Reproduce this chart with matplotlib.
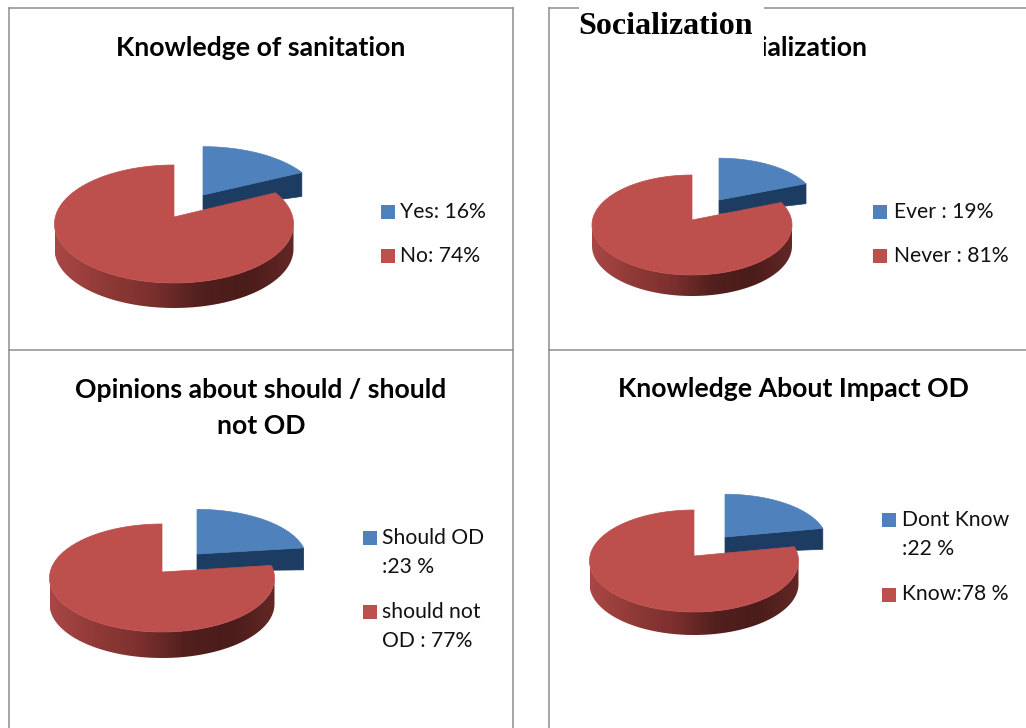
import numpy as np
import matplotlib
matplotlib.use("Agg")
import matplotlib.pyplot as plt
from matplotlib.colors import LinearSegmentedColormap
from matplotlib.patches import Polygon, Rectangle

# Datos
titulos = ["Knowledge of sanitation", "Socialization",
           "Opinions about should / should\nnot OD", "Knowledge About Impact OD"]
valores_azul = [16, 19, 23, 22]
valores_rojo = [74, 81, 77, 78]
etiquetas_azul = ["Yes: 16%", "Ever : 19%", "Should OD\n:23 %", "Dont Know\n:22 %"]
etiquetas_rojo = ["No: 74%", "Never : 81%", "should not\nOD : 77%", "Know:78 %"]

# Geometria en pixeles: vertice rojo, radios y grosor
vertice_rojo = [(174, 217), (692, 220), (162, 572), (694, 556)]
radio_x = [119.5, 100, 112.5, 104.5]
radio_arriba = [52, 45, 48, 46]
radio_abajo = [66, 55, 60, 56]
grosor = [25, 21, 26, 23]
vertice_azul = [(203, 195), (719, 200), (197, 554), (725, 537)]
grosor_azul = [(15, 24), (14, 20), (17, 22), (16, 21)]
titulo_pos = [(261, 48), (793, 48), (261, 408), (793, 389)]

ley_x = [(381, 400), (873, 894), (363, 382), (882, 902)]
ley_azul_y = [211.5, 211.5, 552.5, 534.5]
ley_rojo_y = [256, 256, 626.5, 594.5]

AZUL = "#4f81bd"
AZUL_OSC = "#1d3c62"
ROJO = "#bd4f4c"
GRIS = "#8e8e8e"
cmap_lado = LinearSegmentedColormap.from_list(
    "lado", ["#a94745", "#903a37", "#7c302e", "#52201e", "#4a1c1a", "#632725"])

plt.rcParams["font.family"] = ["Lato", "DejaVu Sans"]
fig = plt.figure(figsize=(10.26, 7.28), dpi=100)
ax = fig.add_axes([0, 0, 1, 1])
ax.axis("off")

# Bordes de la tabla
for xs, ys in [((9, 9), (8, 728)), ((513, 513), (8, 728)), ((549, 549), (8, 728)),
               ((9, 513), (8, 8)), ((549, 1026), (8, 8)),
               ((9, 513), (350, 350)), ((549, 1026), (350, 350))]:
    ax.plot(xs, ys, color=GRIS, lw=1.1, zorder=1)


def borde(theta, vx, vy, rx, ra, rb, esc_x=1.0, esc_y=1.0):
    # circulo unidad proyectado con perspectiva: atras chico, adelante grande
    k = (rb - ra) / (rb + ra)
    b = ra * (1 + k)
    a = rx * np.sqrt(1 - k ** 2)
    d = 1 + k * np.cos(theta)
    return (vx + esc_x * a * np.sin(theta) / d,
            vy - esc_y * b * np.cos(theta) / d)


for i in range(4):
    vx, vy = vertice_rojo[i]
    rx, ra, rb, h = radio_x[i], radio_arriba[i], radio_abajo[i], grosor[i]
    corte = 2 * np.pi * valores_azul[i] / (valores_azul[i] + valores_rojo[i])

    # Porcion azul separada
    bx, by = vertice_azul[i]
    h1, h2 = grosor_azul[i]
    t = np.linspace(0, corte, 60)
    x, y = borde(t, bx, by, rx, ra, rb, 0.975, 0.93)
    ax.add_patch(Polygon([(bx, by), (x[-1], y[-1]), (x[-1], y[-1] + h2), (bx, by + h1)],
                         fc=AZUL_OSC, ec=AZUL_OSC, lw=0.5, zorder=2))
    ax.add_patch(Polygon(np.r_[[(bx, by)], np.c_[x, y]], fc=AZUL, ec=AZUL, lw=0.5, zorder=3))

    # Lado visible de la porcion roja, degradado recortado con la forma del lado
    k = (rb - ra) / (rb + ra)
    ini = max(corte, np.arccos(-k))
    fin = 2 * np.pi - np.arccos(-k)
    t = np.linspace(ini, fin, 160)
    x, y = borde(t, vx, vy, rx, ra, rb)
    lado = Polygon(np.r_[np.c_[x, y], np.c_[x[::-1], y[::-1] + h]],
                   transform=ax.transData, fc="none", ec="none")
    ax.add_patch(lado)
    img = ax.imshow(np.linspace(0, 1, 256).reshape(1, -1), cmap=cmap_lado, aspect="auto",
                    extent=(x.min(), x.max(), y.max() + h, y.min()), zorder=4,
                    interpolation="bilinear")
    img.set_clip_path(lado)

    # Cara superior roja
    t = np.linspace(corte, 2 * np.pi, 300)
    x, y = borde(t, vx, vy, rx, ra, rb)
    ax.add_patch(Polygon(np.r_[[(vx, vy)], np.c_[x, y]], fc=ROJO, ec=ROJO, lw=0.5, zorder=5))

    # Titulo
    ax.text(*titulo_pos[i], titulos[i], ha="center", va="center", fontsize=19.2,
            fontweight="bold", color="black", linespacing=1.56, zorder=6)

    # Leyenda
    cx, tx = ley_x[i]
    lineas_azul = etiquetas_azul[i].count("\n") + 1
    lineas_rojo = etiquetas_rojo[i].count("\n") + 1
    for yc, n, color, txt in [(ley_azul_y[i], lineas_azul, AZUL, etiquetas_azul[i]),
                              (ley_rojo_y[i], lineas_rojo, ROJO, etiquetas_rojo[i])]:
        ycuad = yc - 15 if n == 2 else yc
        ax.add_patch(Rectangle((cx, ycuad - 7), 14, 14, fc=color, ec="none", zorder=6))
        ax.text(tx, yc, txt, ha="left", va="center", fontsize=15.2, color="#111111",
                linespacing=1.62, zorder=6)

# Recuadro pegado encima del titulo
ax.add_patch(Rectangle((579, 0), 185, 62, fc="white", ec="none", zorder=7))
ax.text(665, 26, "Socialization", ha="center", va="center", fontsize=23,
        fontweight="bold", family=["Liberation Serif"], color="black", zorder=8)

ax.set_xlim(0, 1026)
ax.set_ylim(728, 0)
fig.savefig("out.png", dpi=100)
